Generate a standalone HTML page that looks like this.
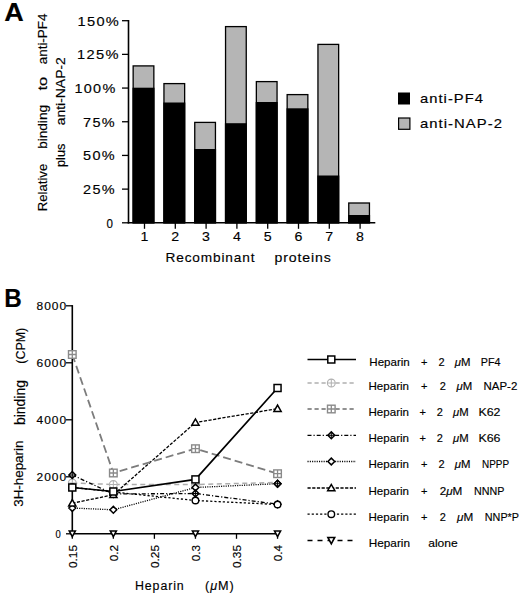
<!DOCTYPE html>
<html><head><meta charset="utf-8"><title>Figure</title>
<style>html,body{margin:0;padding:0;background:#fff}svg{display:block}text{font-family:"Liberation Sans",sans-serif;fill:#000;stroke:#000;stroke-width:0.15px}</style>
</head><body>
<svg width="520" height="594" viewBox="0 0 520 594">
<rect width="520" height="594" fill="#fff"/>
<text x="4.2" y="20.8" font-size="25.5" text-anchor="start" font-weight="bold" textLength="19.5" lengthAdjust="spacingAndGlyphs" >A</text>
<path d="M128.5 20.0 V223.5" stroke="#000" stroke-width="1.6" fill="none"/>
<path d="M127.7 222.8 H375.3" stroke="#000" stroke-width="1.6" fill="none"/>
<path d="M122 20.70 H128.5" stroke="#000" stroke-width="1.3"/>
<text x="77.5" y="25.6" font-size="13.2" text-anchor="start" textLength="42.7" lengthAdjust="spacingAndGlyphs" letter-spacing="1.2">150%</text>
<path d="M122 54.38 H128.5" stroke="#000" stroke-width="1.3"/>
<text x="77" y="59.28" font-size="13.2" text-anchor="start" textLength="42.8" lengthAdjust="spacingAndGlyphs" letter-spacing="1.2">125%</text>
<path d="M122 88.07 H128.5" stroke="#000" stroke-width="1.3"/>
<text x="74.4" y="92.97" font-size="13.2" text-anchor="start" textLength="42.2" lengthAdjust="spacingAndGlyphs" letter-spacing="1.2">100%</text>
<path d="M122 121.75 H128.5" stroke="#000" stroke-width="1.3"/>
<text x="83.1" y="126.65" font-size="13.2" text-anchor="start" textLength="32.9" lengthAdjust="spacingAndGlyphs" letter-spacing="1.2">75%</text>
<path d="M122 155.43 H128.5" stroke="#000" stroke-width="1.3"/>
<text x="83.1" y="160.33" font-size="13.2" text-anchor="start" textLength="32.9" lengthAdjust="spacingAndGlyphs" letter-spacing="1.2">50%</text>
<path d="M122 189.12 H128.5" stroke="#000" stroke-width="1.3"/>
<text x="83.1" y="194.02" font-size="13.2" text-anchor="start" textLength="32.9" lengthAdjust="spacingAndGlyphs" letter-spacing="1.2">25%</text>
<path d="M122 222.80 H128.5" stroke="#000" stroke-width="1.3"/>
<text x="106.5" y="227.7" font-size="13.2" text-anchor="start" textLength="7.5" lengthAdjust="spacingAndGlyphs" letter-spacing="1.2">0</text>
<rect x="133.15" y="65.9" width="20.7" height="156.90" fill="#b5b5b5" stroke="#000" stroke-width="1.3"/>
<rect x="132.5" y="87.7" width="22" height="135.70" fill="#000"/>
<path d="M144.5 222.8 V228.8" stroke="#000" stroke-width="1.3"/>
<text x="140.5" y="240.8" font-size="13.7" text-anchor="start" textLength="7.9" lengthAdjust="spacingAndGlyphs" >1</text>
<rect x="163.95" y="83.6" width="20.7" height="139.20" fill="#b5b5b5" stroke="#000" stroke-width="1.3"/>
<rect x="163.3" y="102.5" width="22" height="120.90" fill="#000"/>
<path d="M175.3 222.8 V228.8" stroke="#000" stroke-width="1.3"/>
<text x="171.3" y="240.8" font-size="13.7" text-anchor="start" textLength="7.9" lengthAdjust="spacingAndGlyphs" >2</text>
<rect x="194.75" y="122.4" width="20.7" height="100.40" fill="#b5b5b5" stroke="#000" stroke-width="1.3"/>
<rect x="194.1" y="149" width="22" height="74.40" fill="#000"/>
<path d="M206.1 222.8 V228.8" stroke="#000" stroke-width="1.3"/>
<text x="202.1" y="240.8" font-size="13.7" text-anchor="start" textLength="7.9" lengthAdjust="spacingAndGlyphs" >3</text>
<rect x="225.55" y="26.6" width="20.7" height="196.20" fill="#b5b5b5" stroke="#000" stroke-width="1.3"/>
<rect x="224.9" y="123.2" width="22" height="100.20" fill="#000"/>
<path d="M236.9 222.8 V228.8" stroke="#000" stroke-width="1.3"/>
<text x="232.9" y="240.8" font-size="13.7" text-anchor="start" textLength="7.9" lengthAdjust="spacingAndGlyphs" >4</text>
<rect x="256.35" y="81.6" width="20.7" height="141.20" fill="#b5b5b5" stroke="#000" stroke-width="1.3"/>
<rect x="255.7" y="102" width="22" height="121.40" fill="#000"/>
<path d="M267.7 222.8 V228.8" stroke="#000" stroke-width="1.3"/>
<text x="263.7" y="240.8" font-size="13.7" text-anchor="start" textLength="7.9" lengthAdjust="spacingAndGlyphs" >5</text>
<rect x="287.15" y="94.6" width="20.7" height="128.20" fill="#b5b5b5" stroke="#000" stroke-width="1.3"/>
<rect x="286.5" y="108.3" width="22" height="115.10" fill="#000"/>
<path d="M298.5 222.8 V228.8" stroke="#000" stroke-width="1.3"/>
<text x="294.5" y="240.8" font-size="13.7" text-anchor="start" textLength="7.9" lengthAdjust="spacingAndGlyphs" >6</text>
<rect x="317.95" y="44.4" width="20.7" height="178.40" fill="#b5b5b5" stroke="#000" stroke-width="1.3"/>
<rect x="317.3" y="175.5" width="22" height="47.90" fill="#000"/>
<path d="M329.3 222.8 V228.8" stroke="#000" stroke-width="1.3"/>
<text x="325.3" y="240.8" font-size="13.7" text-anchor="start" textLength="7.9" lengthAdjust="spacingAndGlyphs" >7</text>
<rect x="348.75" y="203" width="20.7" height="19.80" fill="#b5b5b5" stroke="#000" stroke-width="1.3"/>
<rect x="348.1" y="215" width="22" height="8.40" fill="#000"/>
<path d="M360.1 222.8 V228.8" stroke="#000" stroke-width="1.3"/>
<text x="356.1" y="240.8" font-size="13.7" text-anchor="start" textLength="7.9" lengthAdjust="spacingAndGlyphs" >8</text>
<text x="165.5" y="262" font-size="12.7" text-anchor="start" textLength="89.8" lengthAdjust="spacingAndGlyphs" letter-spacing="0.8">Recombinant</text>
<text x="274.5" y="262" font-size="12.7" text-anchor="start" textLength="57.3" lengthAdjust="spacingAndGlyphs" letter-spacing="0.8">proteins</text>
<text x="46.9" y="211.3" font-size="12.9" text-anchor="start" textLength="47.6" lengthAdjust="spacingAndGlyphs" transform="rotate(-90 46.9 211.3)" >Relative</text>
<text x="46.9" y="148.8" font-size="12.9" text-anchor="start" textLength="43.8" lengthAdjust="spacingAndGlyphs" transform="rotate(-90 46.9 148.8)" >binding</text>
<text x="46.9" y="90.5" font-size="12.9" text-anchor="start" textLength="13.7" lengthAdjust="spacingAndGlyphs" transform="rotate(-90 46.9 90.5)" >to</text>
<text x="46.9" y="64.3" font-size="12.9" text-anchor="start" textLength="50.8" lengthAdjust="spacingAndGlyphs" transform="rotate(-90 46.9 64.3)" >anti-PF4</text>
<text x="65" y="167" font-size="12.9" text-anchor="start" textLength="23.3" lengthAdjust="spacingAndGlyphs" transform="rotate(-90 65 167)" >plus</text>
<text x="65" y="125.3" font-size="12.9" text-anchor="start" textLength="68.1" lengthAdjust="spacingAndGlyphs" transform="rotate(-90 65 125.3)" >anti-NAP-2</text>
<rect x="398" y="92.5" width="12" height="12" fill="#000"/>
<rect x="398.6" y="118" width="11.3" height="11.3" fill="#b5b5b5" stroke="#000" stroke-width="1.2"/>
<text x="420" y="102.6" font-size="12.7" text-anchor="start" textLength="64" lengthAdjust="spacingAndGlyphs" letter-spacing="0.9">anti-PF4</text>
<text x="420" y="128.4" font-size="12.7" text-anchor="start" textLength="83" lengthAdjust="spacingAndGlyphs" letter-spacing="0.9">anti-NAP-2</text>
<text x="4.2" y="307.3" font-size="25.5" text-anchor="start" font-weight="bold" textLength="17.5" lengthAdjust="spacingAndGlyphs" >B</text>
<path d="M72.3 305.1 V534.5" stroke="#000" stroke-width="1.6" fill="none"/>
<path d="M71.5 533.8 H278.2" stroke="#000" stroke-width="1.6" fill="none"/>
<path d="M66 305.80 H72.3" stroke="#000" stroke-width="1.3"/>
<text x="36.6" y="309.5" font-size="10.2" text-anchor="start" textLength="30.4" lengthAdjust="spacingAndGlyphs" letter-spacing="0.8">8000</text>
<path d="M66 362.80 H72.3" stroke="#000" stroke-width="1.3"/>
<text x="36.6" y="366.5" font-size="10.2" text-anchor="start" textLength="30.4" lengthAdjust="spacingAndGlyphs" letter-spacing="0.8">6000</text>
<path d="M66 419.80 H72.3" stroke="#000" stroke-width="1.3"/>
<text x="36.6" y="423.5" font-size="10.2" text-anchor="start" textLength="30.4" lengthAdjust="spacingAndGlyphs" letter-spacing="0.8">4000</text>
<path d="M66 476.80 H72.3" stroke="#000" stroke-width="1.3"/>
<text x="36.6" y="480.5" font-size="10.2" text-anchor="start" textLength="30.4" lengthAdjust="spacingAndGlyphs" letter-spacing="0.8">2000</text>
<path d="M66 533.80 H72.3" stroke="#000" stroke-width="1.3"/>
<text x="55.5" y="537.5" font-size="10.2" text-anchor="start" textLength="6" lengthAdjust="spacingAndGlyphs" letter-spacing="0.8">0</text>
<path d="M72.30 533.8 V538.8" stroke="#000" stroke-width="1.3"/>
<text x="76.5" y="568" font-size="11" text-anchor="start" textLength="23" lengthAdjust="spacingAndGlyphs" transform="rotate(-90 76.5 568)" >0.15</text>
<path d="M113.35 533.8 V538.8" stroke="#000" stroke-width="1.3"/>
<text x="117.55" y="561.3" font-size="11" text-anchor="start" textLength="16.3" lengthAdjust="spacingAndGlyphs" transform="rotate(-90 117.55 561.3)" >0.2</text>
<path d="M154.40 533.8 V538.8" stroke="#000" stroke-width="1.3"/>
<text x="158.6" y="568" font-size="11" text-anchor="start" textLength="23" lengthAdjust="spacingAndGlyphs" transform="rotate(-90 158.6 568)" >0.25</text>
<path d="M195.45 533.8 V538.8" stroke="#000" stroke-width="1.3"/>
<text x="199.65" y="561.3" font-size="11" text-anchor="start" textLength="16.3" lengthAdjust="spacingAndGlyphs" transform="rotate(-90 199.65 561.3)" >0.3</text>
<path d="M236.50 533.8 V538.8" stroke="#000" stroke-width="1.3"/>
<text x="240.7" y="568" font-size="11" text-anchor="start" textLength="23" lengthAdjust="spacingAndGlyphs" transform="rotate(-90 240.7 568)" >0.35</text>
<path d="M277.55 533.8 V538.8" stroke="#000" stroke-width="1.3"/>
<text x="281.75" y="561.3" font-size="11" text-anchor="start" textLength="16.3" lengthAdjust="spacingAndGlyphs" transform="rotate(-90 281.75 561.3)" >0.4</text>
<text x="135" y="590.2" font-size="12.5" text-anchor="start" textLength="49.6" lengthAdjust="spacingAndGlyphs" letter-spacing="0.9">Heparin</text>
<text x="205" y="590.2" font-size="12.5" text-anchor="start" textLength="29.6" lengthAdjust="spacingAndGlyphs" letter-spacing="0.9">(<tspan font-style="italic">μ</tspan>M)</text>
<text x="23.1" y="506.8" font-size="13.2" text-anchor="start" textLength="66.2" lengthAdjust="spacingAndGlyphs" transform="rotate(-90 23.1 506.8)" >3H-heparin</text>
<text x="25.4" y="425" font-size="13.9" text-anchor="start" textLength="45" lengthAdjust="spacingAndGlyphs" transform="rotate(-90 25.4 425)" >binding</text>
<text x="25.4" y="363.7" font-size="13.5" text-anchor="start" textLength="35.9" lengthAdjust="spacingAndGlyphs" transform="rotate(-90 25.4 363.7)" >(CPM)</text>
<polyline points="72.30,483.00 113.35,484.50 195.45,484.50 277.55,482.50" fill="none" stroke="#adadad" stroke-width="1.5" stroke-dasharray="5 3.5"/>
<polyline points="72.30,508.00 113.35,509.80 195.45,487.50 277.55,483.70" fill="none" stroke="#000" stroke-width="1.3" stroke-dasharray="1.1 1.2"/>
<polyline points="72.30,475.00 113.35,494.00 195.45,493.50 277.55,504.20" fill="none" stroke="#000" stroke-width="1.3" stroke-dasharray="4 2 1.2 2"/>
<polyline points="72.30,487.30 113.35,492.00 195.45,500.50 277.55,504.50" fill="none" stroke="#000" stroke-width="1.3" stroke-dasharray="2.2 2"/>
<polyline points="72.30,503.20 113.35,494.80 195.45,422.50 277.55,408.70" fill="none" stroke="#000" stroke-width="1.3" stroke-dasharray="3.2 1.5"/>
<polyline points="72.30,354.50 113.35,473.00 195.45,448.70 277.55,473.70" fill="none" stroke="#7c7c7c" stroke-width="1.8" stroke-dasharray="8 4"/>
<polyline points="72.30,487.50 113.35,491.50 195.45,479.40 277.55,388.00" fill="none" stroke="#000" stroke-width="1.7"/>
<path d="M69.20 530.90 L75.40 530.90 L72.30 536.70 Z" fill="#fff" stroke="#000" stroke-width="1.5" stroke-linejoin="miter"/>
<path d="M110.25 530.90 L116.45 530.90 L113.35 536.70 Z" fill="#fff" stroke="#000" stroke-width="1.5" stroke-linejoin="miter"/>
<path d="M192.35 530.90 L198.55 530.90 L195.45 536.70 Z" fill="#fff" stroke="#000" stroke-width="1.5" stroke-linejoin="miter"/>
<path d="M274.45 530.90 L280.65 530.90 L277.55 536.70 Z" fill="#fff" stroke="#000" stroke-width="1.5" stroke-linejoin="miter"/>
<circle cx="72.30" cy="483.00" r="3.9" fill="#fff" stroke="#b0b0b0" stroke-width="1.1"/><path d="M68.40 483.00 h7.8 M72.30 479.10 v7.8" stroke="#b0b0b0" stroke-width="1" fill="none"/>
<circle cx="113.35" cy="484.50" r="3.9" fill="#fff" stroke="#b0b0b0" stroke-width="1.1"/><path d="M109.45 484.50 h7.8 M113.35 480.60 v7.8" stroke="#b0b0b0" stroke-width="1" fill="none"/>
<circle cx="195.45" cy="484.50" r="3.9" fill="#fff" stroke="#b0b0b0" stroke-width="1.1"/><path d="M191.55 484.50 h7.8 M195.45 480.60 v7.8" stroke="#b0b0b0" stroke-width="1" fill="none"/>
<path d="M68.90 508.00 L72.30 504.60 L75.70 508.00 L72.30 511.40 Z" fill="#fff" stroke="#000" stroke-width="1.5"/>
<path d="M109.95 509.80 L113.35 506.40 L116.75 509.80 L113.35 513.20 Z" fill="#fff" stroke="#000" stroke-width="1.5"/>
<path d="M192.05 487.50 L195.45 484.10 L198.85 487.50 L195.45 490.90 Z" fill="#fff" stroke="#000" stroke-width="1.5"/>
<path d="M274.15 483.70 L277.55 480.30 L280.95 483.70 L277.55 487.10 Z" fill="#fff" stroke="#000" stroke-width="1.5"/>
<path d="M274.15 483.70 L277.55 480.30 L280.95 483.70 L277.55 487.10 Z" fill="#fff" stroke="#000" stroke-width="1.5"/><path d="M274.15 483.70 h6.8 M277.55 480.30 v6.8" stroke="#000" stroke-width="1.0" fill="none"/>
<path d="M68.90 475.00 L72.30 471.60 L75.70 475.00 L72.30 478.40 Z" fill="#fff" stroke="#000" stroke-width="1.5"/><path d="M68.90 475.00 h6.8 M72.30 471.60 v6.8" stroke="#000" stroke-width="1.0" fill="none"/>
<path d="M109.95 494.00 L113.35 490.60 L116.75 494.00 L113.35 497.40 Z" fill="#fff" stroke="#000" stroke-width="1.5"/><path d="M109.95 494.00 h6.8 M113.35 490.60 v6.8" stroke="#000" stroke-width="1.0" fill="none"/>
<path d="M192.05 493.50 L195.45 490.10 L198.85 493.50 L195.45 496.90 Z" fill="#fff" stroke="#000" stroke-width="1.5"/><path d="M192.05 493.50 h6.8 M195.45 490.10 v6.8" stroke="#000" stroke-width="1.0" fill="none"/>
<path d="M274.15 504.20 L277.55 500.80 L280.95 504.20 L277.55 507.60 Z" fill="#fff" stroke="#000" stroke-width="1.5"/><path d="M274.15 504.20 h6.8 M277.55 500.80 v6.8" stroke="#000" stroke-width="1.0" fill="none"/>
<circle cx="72.30" cy="487.30" r="3.3" fill="#fff" stroke="#000" stroke-width="1.4"/>
<circle cx="113.35" cy="492.00" r="3.3" fill="#fff" stroke="#000" stroke-width="1.4"/>
<circle cx="195.45" cy="500.50" r="3.3" fill="#fff" stroke="#000" stroke-width="1.4"/>
<circle cx="277.55" cy="504.50" r="3.3" fill="#fff" stroke="#000" stroke-width="1.4"/>
<path d="M68.70 505.90 L72.30 499.60 L75.90 505.90 Z" fill="#fff" stroke="#000" stroke-width="1.5" stroke-linejoin="miter"/>
<path d="M109.75 497.50 L113.35 491.20 L116.95 497.50 Z" fill="#fff" stroke="#000" stroke-width="1.5" stroke-linejoin="miter"/>
<path d="M191.85 425.20 L195.45 418.90 L199.05 425.20 Z" fill="#fff" stroke="#000" stroke-width="1.5" stroke-linejoin="miter"/>
<path d="M273.95 411.40 L277.55 405.10 L281.15 411.40 Z" fill="#fff" stroke="#000" stroke-width="1.5" stroke-linejoin="miter"/>
<rect x="68.50" y="350.70" width="7.6" height="7.6" fill="#fff" stroke="#8a8a8a" stroke-width="1.4"/><path d="M68.50 354.50 h7.6 M72.30 350.70 v7.6" stroke="#8a8a8a" stroke-width="1.3" fill="none"/>
<rect x="109.55" y="469.20" width="7.6" height="7.6" fill="#fff" stroke="#8a8a8a" stroke-width="1.4"/><path d="M109.55 473.00 h7.6 M113.35 469.20 v7.6" stroke="#8a8a8a" stroke-width="1.3" fill="none"/>
<rect x="191.65" y="444.90" width="7.6" height="7.6" fill="#fff" stroke="#8a8a8a" stroke-width="1.4"/><path d="M191.65 448.70 h7.6 M195.45 444.90 v7.6" stroke="#8a8a8a" stroke-width="1.3" fill="none"/>
<rect x="273.75" y="469.90" width="7.6" height="7.6" fill="#fff" stroke="#8a8a8a" stroke-width="1.4"/><path d="M273.75 473.70 h7.6 M277.55 469.90 v7.6" stroke="#8a8a8a" stroke-width="1.3" fill="none"/>
<rect x="68.80" y="484.00" width="7.0" height="7.0" fill="#fff" stroke="#000" stroke-width="1.5"/>
<rect x="109.85" y="488.00" width="7.0" height="7.0" fill="#fff" stroke="#000" stroke-width="1.5"/>
<rect x="191.95" y="475.90" width="7.0" height="7.0" fill="#fff" stroke="#000" stroke-width="1.5"/>
<rect x="274.05" y="384.50" width="7.0" height="7.0" fill="#fff" stroke="#000" stroke-width="1.5"/>
<path d="M307.5 359.5 H356" fill="none" stroke="#000" stroke-width="1.7"/>
<rect x="327.80" y="356.00" width="7.0" height="7.0" fill="#fff" stroke="#000" stroke-width="1.5"/>
<path d="M307.5 383 H356" fill="none" stroke="#b0b0b0" stroke-width="1.3" stroke-dasharray="4.2 2.8"/>
<circle cx="331.30" cy="383.00" r="3.9" fill="#fff" stroke="#b0b0b0" stroke-width="1.1"/><path d="M327.40 383.00 h7.8 M331.30 379.10 v7.8" stroke="#b0b0b0" stroke-width="1" fill="none"/>
<path d="M307.5 409 H356" fill="none" stroke="#6e6e6e" stroke-width="1.3" stroke-dasharray="4.2 2.8"/>
<rect x="327.50" y="405.20" width="7.6" height="7.6" fill="#fff" stroke="#8a8a8a" stroke-width="1.4"/><path d="M327.50 409.00 h7.6 M331.30 405.20 v7.6" stroke="#8a8a8a" stroke-width="1.3" fill="none"/>
<path d="M307.5 435.3 H356" fill="none" stroke="#000" stroke-width="1.3" stroke-dasharray="4 2 1.2 2"/>
<path d="M327.90 435.30 L331.30 431.90 L334.70 435.30 L331.30 438.70 Z" fill="#fff" stroke="#000" stroke-width="1.5"/><path d="M327.90 435.30 h6.8 M331.30 431.90 v6.8" stroke="#000" stroke-width="1.0" fill="none"/>
<path d="M307.5 461.5 H356" fill="none" stroke="#000" stroke-width="1.3" stroke-dasharray="1.1 1.2"/>
<path d="M327.90 461.50 L331.30 458.10 L334.70 461.50 L331.30 464.90 Z" fill="#fff" stroke="#000" stroke-width="1.5"/>
<path d="M307.5 488 H356" fill="none" stroke="#000" stroke-width="1.3" stroke-dasharray="3.2 1.5"/>
<path d="M327.70 490.70 L331.30 484.40 L334.90 490.70 Z" fill="#fff" stroke="#000" stroke-width="1.5" stroke-linejoin="miter"/>
<path d="M307.5 514.2 H356" fill="none" stroke="#000" stroke-width="1.3" stroke-dasharray="2.2 2"/>
<circle cx="331.30" cy="514.20" r="3.3" fill="#fff" stroke="#000" stroke-width="1.4"/>
<path d="M307.5 540.5 H356" fill="none" stroke="#000" stroke-width="1.3" stroke-dasharray="5 5"/>
<path d="M327.90000000000003 537.5 L334.7 537.5 L331.3 543.9 Z" fill="#fff" stroke="#000" stroke-width="1.6"/>
<text x="369.3" y="366" font-size="11" text-anchor="start" textLength="40.5" lengthAdjust="spacingAndGlyphs" stroke="#000" stroke-width="0.3">Heparin</text>
<text x="421" y="366" font-size="11" text-anchor="start" stroke="#000" stroke-width="0.3">+</text>
<text x="438.5" y="366" font-size="11" text-anchor="start" stroke="#000" stroke-width="0.3">2</text>
<text x="454.7" y="366" font-size="11" text-anchor="start" textLength="15.7" lengthAdjust="spacingAndGlyphs" stroke="#000" stroke-width="0.3"><tspan font-style="italic">μ</tspan>M</text>
<text x="480.8" y="366" font-size="11" text-anchor="start" textLength="19.7" lengthAdjust="spacingAndGlyphs" stroke="#000" stroke-width="0.3">PF4</text>
<text x="368.5" y="390" font-size="11" text-anchor="start" textLength="40.5" lengthAdjust="spacingAndGlyphs" stroke="#000" stroke-width="0.3">Heparin</text>
<text x="421" y="390" font-size="11" text-anchor="start" stroke="#000" stroke-width="0.3">+</text>
<text x="439.7" y="390" font-size="11" text-anchor="start" stroke="#000" stroke-width="0.3">2</text>
<text x="456.6" y="390" font-size="11" text-anchor="start" textLength="15.7" lengthAdjust="spacingAndGlyphs" stroke="#000" stroke-width="0.3"><tspan font-style="italic">μ</tspan>M</text>
<text x="483.6" y="390" font-size="11" text-anchor="start" textLength="33.7" lengthAdjust="spacingAndGlyphs" stroke="#000" stroke-width="0.3">NAP-2</text>
<text x="368.5" y="416" font-size="11" text-anchor="start" textLength="40.5" lengthAdjust="spacingAndGlyphs" stroke="#000" stroke-width="0.3">Heparin</text>
<text x="419.5" y="416" font-size="11" text-anchor="start" stroke="#000" stroke-width="0.3">+</text>
<text x="436.7" y="416" font-size="11" text-anchor="start" stroke="#000" stroke-width="0.3">2</text>
<text x="453" y="416" font-size="11" text-anchor="start" textLength="15.6" lengthAdjust="spacingAndGlyphs" stroke="#000" stroke-width="0.3"><tspan font-style="italic">μ</tspan>M</text>
<text x="478.5" y="416" font-size="11" text-anchor="start" textLength="22.0" lengthAdjust="spacingAndGlyphs" stroke="#000" stroke-width="0.3">K62</text>
<text x="368.5" y="442.3" font-size="11" text-anchor="start" textLength="40.5" lengthAdjust="spacingAndGlyphs" stroke="#000" stroke-width="0.3">Heparin</text>
<text x="419.5" y="442.3" font-size="11" text-anchor="start" stroke="#000" stroke-width="0.3">+</text>
<text x="436.7" y="442.3" font-size="11" text-anchor="start" stroke="#000" stroke-width="0.3">2</text>
<text x="453" y="442.3" font-size="11" text-anchor="start" textLength="15.6" lengthAdjust="spacingAndGlyphs" stroke="#000" stroke-width="0.3"><tspan font-style="italic">μ</tspan>M</text>
<text x="478.5" y="442.3" font-size="11" text-anchor="start" textLength="22.0" lengthAdjust="spacingAndGlyphs" stroke="#000" stroke-width="0.3">K66</text>
<text x="368.5" y="468.3" font-size="11" text-anchor="start" textLength="40.5" lengthAdjust="spacingAndGlyphs" stroke="#000" stroke-width="0.3">Heparin</text>
<text x="421" y="468.3" font-size="11" text-anchor="start" stroke="#000" stroke-width="0.3">+</text>
<text x="438.5" y="468.3" font-size="11" text-anchor="start" stroke="#000" stroke-width="0.3">2</text>
<text x="454.7" y="468.3" font-size="11" text-anchor="start" textLength="15.7" lengthAdjust="spacingAndGlyphs" stroke="#000" stroke-width="0.3"><tspan font-style="italic">μ</tspan>M</text>
<text x="482" y="468.3" font-size="11" text-anchor="start" textLength="27" lengthAdjust="spacingAndGlyphs" stroke="#000" stroke-width="0.3">NPPP</text>
<text x="368.5" y="494.5" font-size="11" text-anchor="start" textLength="40.5" lengthAdjust="spacingAndGlyphs" stroke="#000" stroke-width="0.3">Heparin</text>
<text x="421" y="494.5" font-size="11" text-anchor="start" stroke="#000" stroke-width="0.3">+</text>
<text x="439.7" y="494.5" font-size="11" text-anchor="start" textLength="22.7" lengthAdjust="spacingAndGlyphs" stroke="#000" stroke-width="0.3">2<tspan font-style="italic">μ</tspan>M</text>
<text x="474" y="494.5" font-size="11" text-anchor="start" textLength="30.4" lengthAdjust="spacingAndGlyphs" stroke="#000" stroke-width="0.3">NNNP</text>
<text x="368.5" y="520.7" font-size="11" text-anchor="start" textLength="40.5" lengthAdjust="spacingAndGlyphs" stroke="#000" stroke-width="0.3">Heparin</text>
<text x="421" y="520.7" font-size="11" text-anchor="start" stroke="#000" stroke-width="0.3">+</text>
<text x="439.7" y="520.7" font-size="11" text-anchor="start" stroke="#000" stroke-width="0.3">2</text>
<text x="457" y="520.7" font-size="11" text-anchor="start" textLength="16.2" lengthAdjust="spacingAndGlyphs" stroke="#000" stroke-width="0.3"><tspan font-style="italic">μ</tspan>M</text>
<text x="484.8" y="520.7" font-size="11" text-anchor="start" textLength="34.2" lengthAdjust="spacingAndGlyphs" stroke="#000" stroke-width="0.3">NNP*P</text>
<text x="368.8" y="546.9" font-size="11" text-anchor="start" textLength="41.2" lengthAdjust="spacingAndGlyphs" stroke="#000" stroke-width="0.3">Heparin</text>
<text x="428.2" y="546.9" font-size="11" text-anchor="start" textLength="29.5" lengthAdjust="spacingAndGlyphs" stroke="#000" stroke-width="0.3">alone</text>
</svg>
</body></html>
